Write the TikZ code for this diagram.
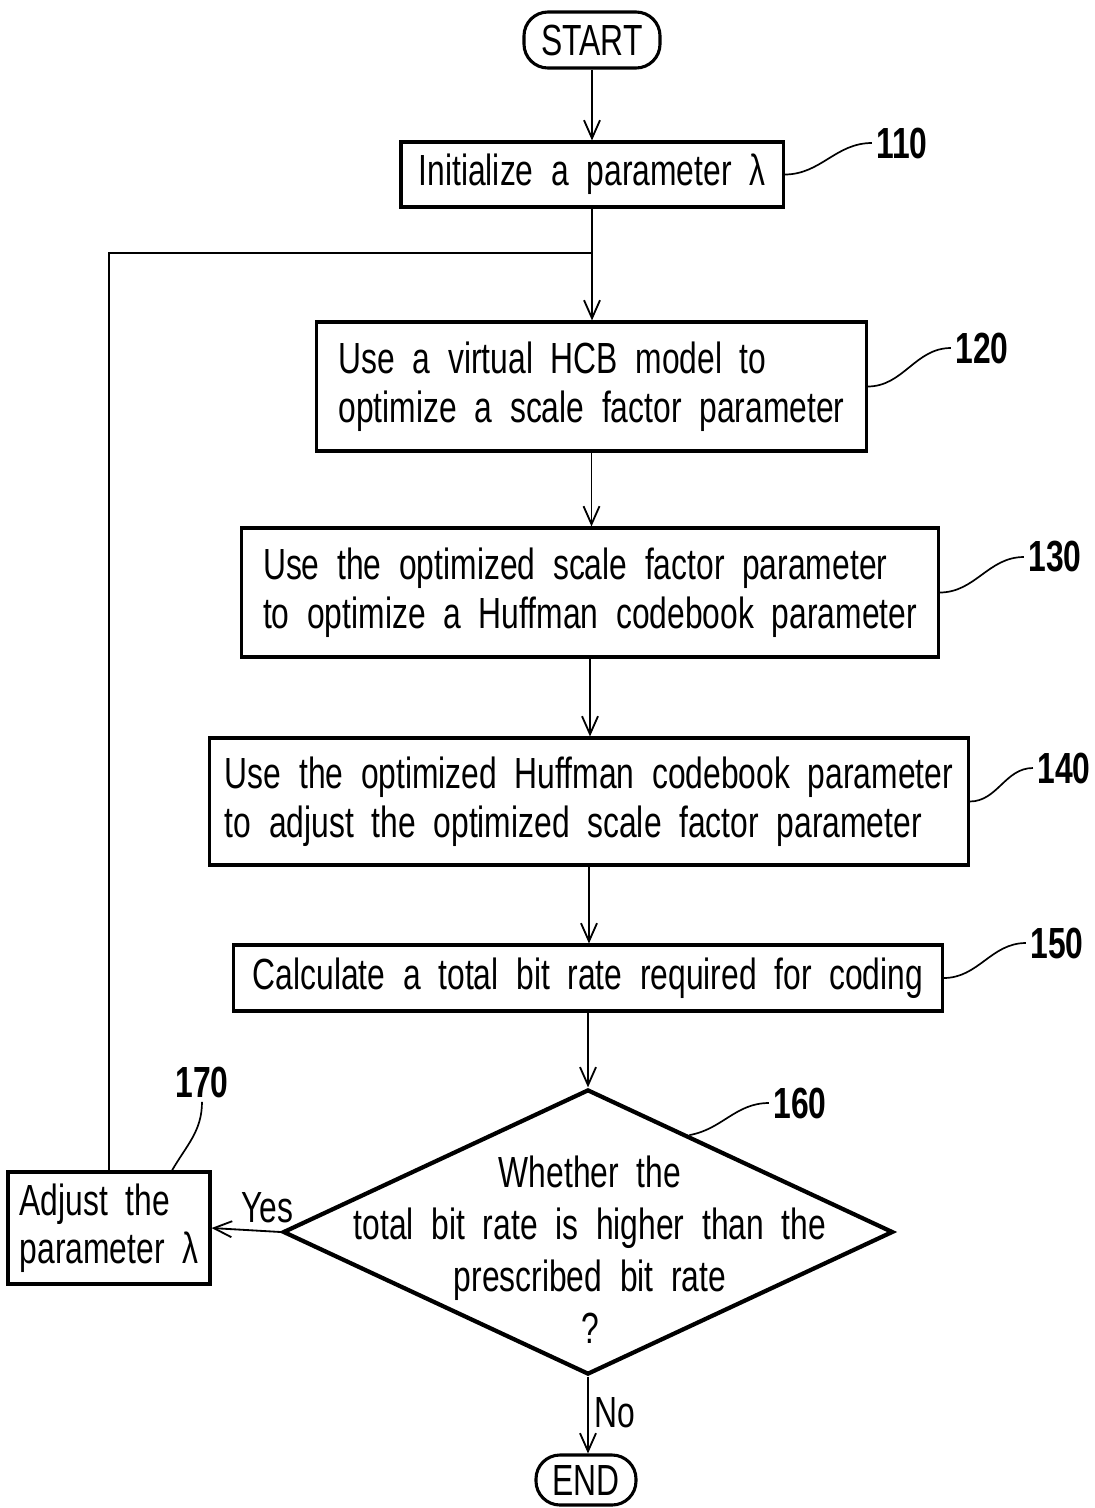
\documentclass[tikz,border=0pt]{standalone}
\usepackage{fontspec}
\setmainfont{Liberation Sans}[FakeStretch=0.73,WordSpace=2.0]
\usetikzlibrary{shapes.geometric,arrows.meta,calc}

\tikzset{
	stepbox/.style={draw, rectangle, line width=2.2pt, inner sep=0pt, align=left},
	termbox/.style={draw, rectangle, rounded corners=0.6cm, line width=2.2pt, inner sep=0pt},
	flow/.style={line width=1.3pt, -{Straight Barb[length=0.45cm,width=0.4cm,line width=1.3pt]}},
	leader/.style={line width=1.2pt},
	reftext/.style={inner sep=3pt, font=\fontsize{31}{35}\selectfont\bfseries},
}

\begin{document}
\begin{tikzpicture}[x=0.025cm, y=-0.025cm, font=\fontsize{31}{34.5}\selectfont]

	\useasboundingbox (0,0) rectangle (1094,1508);

	% Start and end
	\draw (592,40) node[termbox, minimum width=3.4cm, minimum height=1.4cm] (start) {START};
	\draw (586,1480) node[termbox, minimum width=2.5cm, minimum height=1.25cm] (end) {END};

	% Steps
	\draw (592,174.5) node[stepbox, minimum width=9.55cm, minimum height=1.625cm] (init) {Initialize a parameter λ};
	\draw (591.5,386.5) node[stepbox, minimum width=13.725cm, minimum height=3.225cm] (hcb) {Use a virtual HCB model to\\optimize a scale factor parameter};
	\draw (590,592.5) node[stepbox, minimum width=17.4cm, minimum height=3.225cm] (huff) {Use the optimized scale factor parameter\\to optimize a Huffman codebook parameter};
	\draw (589,801.5) node[stepbox, minimum width=18.95cm, minimum height=3.175cm] (adjsf) {Use the optimized Huffman codebook parameter\\to adjust the optimized scale factor parameter};
	\draw (588,978) node[stepbox, minimum width=17.7cm, minimum height=1.65cm] (rate) {Calculate a total bit rate required for coding};
	\draw (109,1228) node[stepbox, minimum width=5.05cm, minimum height=2.8cm] (adj) {Adjust the\\parameter λ};

	% Decision
	\draw (588,1232) node[draw, diamond, line width=3pt, aspect=2.14, inner sep=0pt, minimum width=15.25cm, minimum height=7.125cm] (dec) {};
	\draw (590,1250) node[align=center, font=\fontsize{31}{37}\selectfont] (dectext) {Whether the\\total bit rate is higher than the\\prescribed bit rate\\?};

	% Reference numerals
	\draw (902,143) node[reftext] (r110) {110};
	\draw (982,348) node[reftext] (r120) {120};
	\draw (1055,557) node[reftext] (r130) {130};
	\draw (1064,768) node[reftext] (r140) {140};
	\draw (1057,943) node[reftext] (r150) {150};
	\draw (800,1103) node[reftext] (r160) {160};
	\draw (202,1082) node[reftext] (r170) {170};

	\draw[leader] (init.east) to[out=0, in=180] (r110.west);
	\draw[leader] (hcb.east) to[out=0, in=180] (r120.west);
	\draw[leader] (huff.east) to[out=0, in=180] (r130.west);
	\draw[leader] (adjsf.east) to[out=0, in=180] (r140.west);
	\draw[leader] (rate.east) to[out=0, in=180] (r150.west);
	\draw[leader] ($(dec.north)!0.33!(dec.east)$) to[out=10, in=180] (r160.west);
	\draw[leader] ([xshift=1.575cm]adj.north) to[out=60, in=-90] (r170.south);

	% Flow
	\coordinate (merge) at (592,253);
	\draw[flow] (start.south) -- (start.south |- init.north);
	\draw[flow] (init.south) -- (init.south |- hcb.north);
	\draw[flow] (hcb.south) -- (hcb.south |- huff.north);
	\draw[flow] (huff.south) -- (huff.south |- adjsf.north);
	\draw[flow] (adjsf.south) -- (adjsf.south |- rate.north);
	\draw[flow] (rate.south) -- (rate.south |- dec.north);
	\draw[flow] (dec.west) -- node[above, pos=0.2, inner sep=5pt] {Yes} (adj.east);
	\draw[flow] (dec.south) -- node[right, pos=0.47, inner sep=4pt] {No} (dec.south |- end.north);
	\draw[line width=1.3pt] (adj.north) |- (merge);

\end{tikzpicture}
\end{document}
